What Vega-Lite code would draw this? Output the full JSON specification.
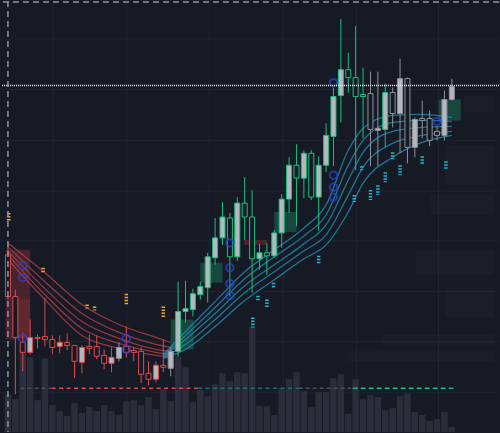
{
  "$schema": "https://vega.github.io/schema/vega-lite/v6.json",
  "width": 500,
  "height": 433,
  "autosize": {"type": "fit", "contains": "padding"},
  "padding": 0,
  "background": "#161a25",
  "config": {"view": {"stroke": null}},
  "datasets": {
    "candles": [
      {"i":0,"h":18.8,"o":17.8,"c":13.6,"l":13.3,"t":"bear","b":"hollow"},
      {"i":1,"h":14.3,"o":13.6,"c":9.5,"l":3.8,"t":"bear","b":"hollow"},
      {"i":2,"h":10.0,"o":9.0,"c":8.0,"l":6.1,"t":"bear","b":"hollow"},
      {"i":3,"h":11.3,"o":9.5,"c":8.0,"l":7.8,"t":"bear","b":"solid"},
      {"i":4,"h":9.8,"o":9.5,"c":9.4,"l":8.4,"t":"bear","b":"hollow"},
      {"i":5,"h":13.5,"o":9.6,"c":9.3,"l":8.6,"t":"bear","b":"hollow"},
      {"i":6,"h":9.7,"o":9.3,"c":8.5,"l":7.8,"t":"bear","b":"hollow"},
      {"i":7,"h":9.7,"o":9.0,"c":8.6,"l":7.9,"t":"bear","b":"solid"},
      {"i":8,"h":9.9,"o":9.0,"c":8.7,"l":8.2,"t":"bear","b":"hollow"},
      {"i":9,"h":8.7,"o":8.7,"c":7.1,"l":5.4,"t":"bear","b":"hollow"},
      {"i":10,"h":8.7,"o":8.5,"c":7.0,"l":5.9,"t":"bear","b":"solid"},
      {"i":11,"h":9.8,"o":8.6,"c":8.4,"l":7.8,"t":"bear","b":"hollow"},
      {"i":12,"h":9.7,"o":8.6,"c":7.6,"l":7.3,"t":"bear","b":"hollow"},
      {"i":13,"h":8.3,"o":7.7,"c":6.9,"l":6.3,"t":"bear","b":"hollow"},
      {"i":14,"h":8.5,"o":7.5,"c":6.9,"l":6.0,"t":"bear","b":"solid"},
      {"i":15,"h":9.0,"o":8.5,"c":7.4,"l":7.1,"t":"neut","b":"solid"},
      {"i":16,"h":10.6,"o":8.6,"c":8.0,"l":7.5,"t":"bear","b":"hollow"},
      {"i":17,"h":8.5,"o":8.2,"c":8.0,"l":7.1,"t":"bear","b":"hollow"},
      {"i":18,"h":8.5,"o":8.1,"c":5.8,"l":4.9,"t":"bear","b":"hollow"},
      {"i":19,"h":7.1,"o":5.9,"c":5.3,"l":4.7,"t":"bear","b":"hollow"},
      {"i":20,"h":7.1,"o":6.7,"c":5.3,"l":5.0,"t":"bear","b":"solid"},
      {"i":21,"h":9.3,"o":6.7,"c":6.5,"l":6.0,"t":"bear","b":"hollow"},
      {"i":22,"h":8.5,"o":8.1,"c":6.4,"l":5.6,"t":"neut","b":"solid"},
      {"i":23,"h":15.1,"o":12.1,"c":8.1,"l":7.6,"t":"bull","b":"solid"},
      {"i":24,"h":15.2,"o":12.4,"c":12.1,"l":11.0,"t":"bull","b":"solid"},
      {"i":25,"h":14.4,"o":13.9,"c":12.3,"l":11.6,"t":"bull","b":"solid"},
      {"i":26,"h":15.1,"o":14.6,"c":13.8,"l":13.3,"t":"bull","b":"solid"},
      {"i":27,"h":18.0,"o":17.6,"c":14.5,"l":13.0,"t":"bull","b":"solid"},
      {"i":28,"h":21.5,"o":19.5,"c":17.5,"l":16.8,"t":"bull","b":"solid"},
      {"i":29,"h":23.1,"o":21.6,"c":19.5,"l":18.8,"t":"bull","b":"solid"},
      {"i":30,"h":22.0,"o":21.5,"c":17.6,"l":13.6,"t":"bull","b":"hollow"},
      {"i":31,"h":23.6,"o":23.0,"c":17.6,"l":17.2,"t":"bull","b":"solid"},
      {"i":32,"h":25.6,"o":23.0,"c":21.6,"l":19.3,"t":"bull","b":"hollow"},
      {"i":33,"h":24.3,"o":21.6,"c":17.4,"l":14.0,"t":"bull","b":"hollow"},
      {"i":34,"h":18.9,"o":18.0,"c":17.4,"l":16.3,"t":"bull","b":"solid"},
      {"i":35,"h":19.0,"o":18.0,"c":17.7,"l":15.8,"t":"bull","b":"hollow"},
      {"i":36,"h":20.3,"o":20.0,"c":17.7,"l":17.5,"t":"bull","b":"solid"},
      {"i":37,"h":23.9,"o":23.4,"c":20.0,"l":18.5,"t":"bull","b":"solid"},
      {"i":38,"h":27.6,"o":26.8,"c":23.4,"l":22.0,"t":"bull","b":"solid"},
      {"i":39,"h":28.9,"o":26.8,"c":25.5,"l":20.7,"t":"bull","b":"hollow"},
      {"i":40,"h":28.3,"o":28.0,"c":25.5,"l":23.5,"t":"bull","b":"solid"},
      {"i":41,"h":28.3,"o":28.0,"c":23.6,"l":23.3,"t":"bull","b":"hollow"},
      {"i":42,"h":27.7,"o":26.8,"c":23.6,"l":20.2,"t":"bull","b":"solid"},
      {"i":43,"h":31.0,"o":29.8,"c":26.8,"l":26.1,"t":"bull","b":"solid"},
      {"i":44,"h":34.6,"o":33.7,"c":29.7,"l":26.7,"t":"bull","b":"solid"},
      {"i":45,"h":41.5,"o":36.4,"c":33.8,"l":31.1,"t":"bull","b":"solid"},
      {"i":46,"h":38.1,"o":36.4,"c":35.6,"l":34.1,"t":"bull","b":"hollow"},
      {"i":47,"h":40.8,"o":35.6,"c":33.7,"l":26.3,"t":"bull","b":"hollow"},
      {"i":48,"h":36.6,"o":33.9,"c":33.7,"l":29.5,"t":"bull","b":"hollow"},
      {"i":49,"h":36.2,"o":34.0,"c":30.4,"l":26.7,"t":"neut","b":"hollow"},
      {"i":50,"h":36.2,"o":30.5,"c":30.3,"l":26.7,"t":"neut","b":"solid"},
      {"i":51,"h":35.0,"o":34.1,"c":30.4,"l":28.6,"t":"bull","b":"solid"},
      {"i":52,"h":34.6,"o":34.1,"c":32.0,"l":30.6,"t":"neut","b":"hollow"},
      {"i":53,"h":37.5,"o":35.5,"c":32.0,"l":28.0,"t":"neut","b":"solid"},
      {"i":54,"h":35.6,"o":35.5,"c":28.6,"l":27.0,"t":"neut","b":"hollow"},
      {"i":55,"h":31.6,"o":31.4,"c":28.6,"l":27.6,"t":"neut","b":"solid"},
      {"i":56,"h":33.3,"o":31.5,"c":31.3,"l":29.5,"t":"neut","b":"hollow"},
      {"i":57,"h":32.3,"o":31.5,"c":29.3,"l":28.7,"t":"neut","b":"hollow"},
      {"i":58,"h":30.7,"o":30.2,"c":29.8,"l":29.3,"t":"neut","b":"hollow"},
      {"i":59,"h":34.3,"o":33.4,"c":29.8,"l":29.3,"t":"neut","b":"solid"},
      {"i":60,"h":35.5,"o":34.7,"c":33.4,"l":33.3,"t":"neut","b":"solid"}
    ],
    "volume": [
      {"i":0,"v":38},{"i":1,"v":33},{"i":2,"v":88},{"i":3,"v":75},{"i":4,"v":32},{"i":5,"v":74},
      {"i":6,"v":27},{"i":7,"v":21},{"i":8,"v":16},{"i":9,"v":29},{"i":10,"v":19},{"i":11,"v":25},
      {"i":12,"v":21},{"i":13,"v":27},{"i":14,"v":21},{"i":15,"v":17},{"i":16,"v":31},{"i":17,"v":32},
      {"i":18,"v":27},{"i":19,"v":35},{"i":20,"v":23},{"i":21,"v":43},{"i":22,"v":31},{"i":23,"v":76},
      {"i":24,"v":65},{"i":25,"v":30},{"i":26,"v":42},{"i":27,"v":36},{"i":28,"v":48},{"i":29,"v":59},
      {"i":30,"v":51},{"i":31,"v":60},{"i":32,"v":59},{"i":33,"v":106},{"i":34,"v":26},{"i":35,"v":26},
      {"i":36,"v":17},{"i":37,"v":44},{"i":38,"v":53},{"i":39,"v":60},{"i":40,"v":41},{"i":41,"v":25},
      {"i":42,"v":40},{"i":43,"v":40},{"i":44,"v":54},{"i":45,"v":58},{"i":46,"v":18},{"i":47,"v":53},
      {"i":48,"v":33},{"i":49,"v":37},{"i":50,"v":35},{"i":51,"v":22},{"i":52,"v":24},{"i":53,"v":36},
      {"i":54,"v":39},{"i":55,"v":20},{"i":56,"v":17},{"i":57,"v":11},{"i":58,"v":13},{"i":59,"v":20},
      {"i":60,"v":5}
    ],
    "redRibbon": [
      {"line":"R1","i":0,"p":19.0},{"line":"R1","i":5,"p":16.0},{"line":"R1","i":10,"p":12.8},{"line":"R1","i":15,"p":10.8},{"line":"R1","i":20,"p":9.5},{"line":"R1","i":22,"p":9.0},
      {"line":"R2","i":0,"p":18.6},{"line":"R2","i":5,"p":15.1},{"line":"R2","i":10,"p":11.9},{"line":"R2","i":15,"p":10.0},{"line":"R2","i":20,"p":8.8},{"line":"R2","i":22,"p":8.5},
      {"line":"R3","i":0,"p":18.2},{"line":"R3","i":5,"p":14.4},{"line":"R3","i":10,"p":11.1},{"line":"R3","i":15,"p":9.4},{"line":"R3","i":20,"p":8.3},{"line":"R3","i":22,"p":8.1},
      {"line":"R4","i":0,"p":17.8},{"line":"R4","i":5,"p":13.8},{"line":"R4","i":10,"p":10.4},{"line":"R4","i":15,"p":8.9},{"line":"R4","i":20,"p":8.0},{"line":"R4","i":22,"p":7.8},
      {"line":"R5","i":0,"p":17.3},{"line":"R5","i":5,"p":13.3},{"line":"R5","i":10,"p":9.7},{"line":"R5","i":15,"p":8.4},{"line":"R5","i":20,"p":7.7},{"line":"R5","i":22,"p":7.5}
    ],
    "tealRibbon": [
      {"line":"T1","i":21,"p":7.8},{"line":"T1","i":24,"p":10.1},{"line":"T1","i":28,"p":13.1},{"line":"T1","i":32,"p":16.1},{"line":"T1","i":36,"p":18.3},{"line":"T1","i":40,"p":20.5},{"line":"T1","i":43,"p":22.8},{"line":"T1","i":46,"p":28.3},{"line":"T1","i":48,"p":30.5},{"line":"T1","i":52,"p":31.8},{"line":"T1","i":56,"p":31.9},{"line":"T1","i":60,"p":31.6},
      {"line":"T2","i":21,"p":7.7},{"line":"T2","i":24,"p":9.7},{"line":"T2","i":28,"p":12.5},{"line":"T2","i":32,"p":15.4},{"line":"T2","i":36,"p":17.6},{"line":"T2","i":40,"p":19.7},{"line":"T2","i":43,"p":21.8},{"line":"T2","i":46,"p":26.8},{"line":"T2","i":48,"p":29.3},{"line":"T2","i":52,"p":31.1},{"line":"T2","i":56,"p":31.3},{"line":"T2","i":60,"p":31.2},
      {"line":"T3","i":21,"p":7.6},{"line":"T3","i":24,"p":9.3},{"line":"T3","i":28,"p":11.9},{"line":"T3","i":32,"p":14.7},{"line":"T3","i":36,"p":16.8},{"line":"T3","i":40,"p":18.9},{"line":"T3","i":43,"p":20.8},{"line":"T3","i":46,"p":25.3},{"line":"T3","i":48,"p":28.1},{"line":"T3","i":52,"p":30.2},{"line":"T3","i":56,"p":30.6},{"line":"T3","i":60,"p":30.7},
      {"line":"T4","i":21,"p":7.5},{"line":"T4","i":24,"p":8.8},{"line":"T4","i":28,"p":11.3},{"line":"T4","i":32,"p":14.0},{"line":"T4","i":36,"p":16.1},{"line":"T4","i":40,"p":18.2},{"line":"T4","i":43,"p":19.8},{"line":"T4","i":46,"p":23.8},{"line":"T4","i":48,"p":26.6},{"line":"T4","i":52,"p":29.0},{"line":"T4","i":56,"p":29.8},{"line":"T4","i":60,"p":30.2},
      {"line":"T5","i":21,"p":7.4},{"line":"T5","i":24,"p":8.3},{"line":"T5","i":28,"p":10.6},{"line":"T5","i":32,"p":13.2},{"line":"T5","i":36,"p":15.3},{"line":"T5","i":40,"p":17.4},{"line":"T5","i":43,"p":18.8},{"line":"T5","i":46,"p":22.1},{"line":"T5","i":48,"p":25.0},{"line":"T5","i":52,"p":27.6},{"line":"T5","i":56,"p":29.1},{"line":"T5","i":60,"p":29.8}
    ],
    "zones": [
      {"k":"green","a":22.0,"b":25.1,"p":11.3,"q":8.3},
      {"k":"green","a":26.0,"b":29.0,"p":17.0,"q":15.0},
      {"k":"green","a":36.0,"b":39.05,"p":22.1,"q":20.1},
      {"k":"green","a":58.2,"b":61.2,"p":33.4,"q":31.3},
      {"k":"red","a":-0.3,"b":3.0,"p":18.3,"q":9.3},
      {"k":"red","a":1.0,"b":3.0,"p":13.3,"q":9.5},
      {"k":"red","a":31.9,"b":35.0,"p":19.3,"q":18.8}
    ],
    "profile": [
      {"a":61.7,"b":65.7,"p":33.8,"q":32.1},
      {"a":59.1,"b":65.7,"p":28.8,"q":24.8},
      {"a":57.1,"b":65.7,"p":23.8,"q":21.8},
      {"a":55.1,"b":65.7,"p":18.3,"q":15.8},
      {"a":59.1,"b":65.7,"p":14.5,"q":11.5},
      {"a":50.5,"b":65.7,"p":9.8,"q":8.8},
      {"a":45.9,"b":65.7,"p":8.1,"q":7.1}
    ],
    "gridX": [{"i":6.07},{"i":16.1},{"i":27.2},{"i":37.2},{"i":47.1},{"i":58.2}],
    "gridY": [{"p":39.5},{"p":34.4},{"p":29.3},{"p":24.2},{"p":19.2},{"p":14.1},{"p":9.1},{"p":4.0}],
    "levels": [
      {"k":"grey","a":1.7,"b":5.9,"p":4.4},
      {"k":"red","a":5.9,"b":25.7,"p":4.4},
      {"k":"teal","a":25.7,"b":39.3,"p":4.4},
      {"k":"grey","a":39.3,"b":46.4,"p":4.4},
      {"k":"green","a":46.6,"b":60.4,"p":4.4}
    ],
    "circles": [
      {"i":2,"p":16.7},{"i":2,"p":15.5},{"i":2,"p":9.4},
      {"i":16,"p":9.4},{"i":16,"p":8.3},
      {"i":30,"p":19.0},{"i":30,"p":16.5},{"i":30,"p":14.9},{"i":30,"p":13.7},
      {"i":44,"p":35.1},{"i":44,"p":25.8},{"i":44,"p":24.6},{"i":44,"p":23.6},
      {"i":58,"p":31.2}
    ],
    "dots": [
      {"k":"orange","i":0.1,"p":22.0,"q":21.1},
      {"k":"orange","i":4.75,"p":16.5,"q":16.0},
      {"k":"orange","i":10.7,"p":12.8,"q":12.4},
      {"k":"orange","i":11.7,"p":12.6,"q":12.2},
      {"k":"orange","i":16.0,"p":13.9,"q":12.8},
      {"k":"orange","i":21.0,"p":12.6,"q":11.5},
      {"k":"cyan","i":33.1,"p":11.5,"q":10.5},
      {"k":"cyan","i":33.8,"p":13.7,"q":13.1},
      {"k":"cyan","i":35.0,"p":13.3,"q":12.4},
      {"k":"cyan","i":35.9,"p":15.0,"q":14.5},
      {"k":"cyan","i":42.0,"p":17.7,"q":16.8},
      {"k":"cyan","i":46.8,"p":23.8,"q":23.1},
      {"k":"cyan","i":47.8,"p":26.7,"q":26.3},
      {"k":"cyan","i":49.0,"p":24.3,"q":23.3},
      {"k":"cyan","i":50.0,"p":24.8,"q":23.8},
      {"k":"cyan","i":51.0,"p":26.1,"q":25.1},
      {"k":"cyan","i":52.0,"p":28.1,"q":27.4},
      {"k":"cyan","i":53.0,"p":26.8,"q":25.8},
      {"k":"cyan","i":56.0,"p":27.7,"q":26.8},
      {"k":"cyan","i":59.2,"p":27.2,"q":26.3}
    ],
    "hlines": [
      {"k":"top","p":43.2},
      {"k":"last","p":34.8}
    ],
    "vlines": [{"i":0}]
  },
  "layer": [
    {
      "layer": [
        {
          "data": {"name": "gridX"},
          "mark": {"type": "rule", "color": "#1f2331", "strokeWidth": 1},
          "encoding": {
            "x": {"field": "i", "type": "quantitative", "scale": {"domain": [-0.264, 65.7], "nice": false, "zero": false}, "axis": null}
          }
        },
        {
          "data": {"name": "gridY"},
          "mark": {"type": "rule", "color": "#1f2331", "strokeWidth": 1},
          "encoding": {
            "y": {"field": "p", "type": "quantitative", "scale": {"domain": [0, 43.3], "nice": false, "zero": false}, "axis": null}
          }
        },
        {
          "data": {"name": "profile"},
          "mark": {"type": "rect", "color": "#3a3f4c", "opacity": 0.12},
          "encoding": {
            "x": {"field": "a", "type": "quantitative", "scale": {"domain": [-0.264, 65.7], "nice": false, "zero": false}, "axis": null},
            "x2": {"field": "b"},
            "y": {"field": "p", "type": "quantitative", "scale": {"domain": [0, 43.3], "nice": false, "zero": false}, "axis": null},
            "y2": {"field": "q"}
          }
        },
        {
          "data": {"name": "zones"},
          "transform": [{"filter": "datum.k === 'green'"}],
          "mark": {"type": "rect", "color": "#1a6650", "opacity": 0.6},
          "encoding": {
            "x": {"field": "a", "type": "quantitative", "axis": null},
            "x2": {"field": "b"},
            "y": {"field": "p", "type": "quantitative", "axis": null},
            "y2": {"field": "q"}
          }
        },
        {
          "data": {"name": "zones"},
          "transform": [{"filter": "datum.k === 'red'"}],
          "mark": {"type": "rect", "color": "#7a2c33", "opacity": 0.5},
          "encoding": {
            "x": {"field": "a", "type": "quantitative", "axis": null},
            "x2": {"field": "b"},
            "y": {"field": "p", "type": "quantitative", "axis": null},
            "y2": {"field": "q"}
          }
        }
      ]
    },
    {
      "data": {"name": "volume"},
      "mark": {"type": "bar", "color": "#2b2e3a", "size": 6.5},
      "encoding": {
        "x": {"field": "i", "type": "quantitative", "scale": {"domain": [-0.264, 65.7], "nice": false, "zero": false}, "axis": null},
        "y": {"field": "v", "type": "quantitative", "scale": {"domain": [0, 433], "nice": false, "zero": false}, "axis": null}
      }
    },
    {
      "layer": [
        {
          "data": {"name": "redRibbon"},
          "mark": {"type": "line", "color": "#b23f48", "strokeWidth": 1.3, "opacity": 0.8, "interpolate": "monotone"},
          "encoding": {
            "x": {"field": "i", "type": "quantitative", "scale": {"domain": [-0.264, 65.7], "nice": false, "zero": false}, "axis": null},
            "y": {"field": "p", "type": "quantitative", "scale": {"domain": [0, 43.3], "nice": false, "zero": false}, "axis": null},
            "detail": {"field": "line", "type": "nominal"}
          }
        },
        {
          "data": {"name": "tealRibbon"},
          "mark": {"type": "line", "color": "#1e8db0", "strokeWidth": 1.3, "opacity": 0.8, "interpolate": "monotone"},
          "encoding": {
            "x": {"field": "i", "type": "quantitative", "axis": null},
            "y": {"field": "p", "type": "quantitative", "axis": null},
            "detail": {"field": "line", "type": "nominal"}
          }
        },
        {
          "data": {"name": "levels"},
          "transform": [{"filter": "datum.k === 'grey'"}],
          "mark": {"type": "rule", "color": "#4a4e58", "strokeWidth": 1.5, "strokeDash": [4, 3]},
          "encoding": {
            "x": {"field": "a", "type": "quantitative", "axis": null},
            "x2": {"field": "b"},
            "y": {"field": "p", "type": "quantitative", "axis": null}
          }
        },
        {
          "data": {"name": "levels"},
          "transform": [{"filter": "datum.k === 'red'"}],
          "mark": {"type": "rule", "color": "#d8484c", "strokeWidth": 1.5, "strokeDash": [4, 3.5]},
          "encoding": {
            "x": {"field": "a", "type": "quantitative", "axis": null},
            "x2": {"field": "b"},
            "y": {"field": "p", "type": "quantitative", "axis": null}
          }
        },
        {
          "data": {"name": "levels"},
          "transform": [{"filter": "datum.k === 'teal'"}],
          "mark": {"type": "rule", "color": "#1b6f73", "strokeWidth": 1.5, "strokeDash": [4, 3.5]},
          "encoding": {
            "x": {"field": "a", "type": "quantitative", "axis": null},
            "x2": {"field": "b"},
            "y": {"field": "p", "type": "quantitative", "axis": null}
          }
        },
        {
          "data": {"name": "levels"},
          "transform": [{"filter": "datum.k === 'green'"}],
          "mark": {"type": "rule", "color": "#14b87a", "strokeWidth": 1.5, "strokeDash": [5, 3]},
          "encoding": {
            "x": {"field": "a", "type": "quantitative", "axis": null},
            "x2": {"field": "b"},
            "y": {"field": "p", "type": "quantitative", "axis": null}
          }
        },
        {
          "data": {"name": "candles"},
          "mark": {"type": "rule", "strokeWidth": 1},
          "encoding": {
            "x": {"field": "i", "type": "quantitative", "axis": null},
            "y": {"field": "l", "type": "quantitative", "axis": null},
            "y2": {"field": "h"},
            "stroke": {"field": "t", "type": "nominal", "scale": {"domain": ["bear", "bull", "neut"], "range": ["#e0484c", "#16c080", "#8e9199"]}, "legend": null}
          }
        },
        {
          "data": {"name": "candles"},
          "mark": {"type": "bar", "size": 5, "strokeWidth": 1},
          "encoding": {
            "x": {"field": "i", "type": "quantitative", "axis": null},
            "y": {"field": "o", "type": "quantitative", "axis": null},
            "y2": {"field": "c"},
            "fill": {"field": "b", "type": "nominal", "scale": {"domain": ["solid", "hollow"], "range": ["#b4b7bf", "#161a25"]}, "legend": null},
            "stroke": {"field": "t", "type": "nominal", "legend": null}
          }
        },
        {
          "data": {"name": "circles"},
          "mark": {"type": "point", "shape": "circle", "filled": false, "color": "#2746d0", "strokeWidth": 2, "size": 55},
          "encoding": {
            "x": {"field": "i", "type": "quantitative", "axis": null},
            "y": {"field": "p", "type": "quantitative", "axis": null}
          }
        },
        {
          "data": {"name": "dots"},
          "transform": [{"filter": "datum.k === 'orange'"}],
          "mark": {"type": "rule", "color": "#f5a623", "strokeWidth": 3.5, "strokeDash": [1.5, 1.5]},
          "encoding": {
            "x": {"field": "i", "type": "quantitative", "axis": null},
            "y": {"field": "p", "type": "quantitative", "axis": null},
            "y2": {"field": "q"}
          }
        },
        {
          "data": {"name": "dots"},
          "transform": [{"filter": "datum.k === 'cyan'"}],
          "mark": {"type": "rule", "color": "#22b6d6", "strokeWidth": 3.5, "strokeDash": [1.5, 1.5]},
          "encoding": {
            "x": {"field": "i", "type": "quantitative", "axis": null},
            "y": {"field": "p", "type": "quantitative", "axis": null},
            "y2": {"field": "q"}
          }
        },
        {
          "data": {"name": "hlines"},
          "transform": [{"filter": "datum.k === 'top'"}],
          "mark": {"type": "rule", "color": "#8f959e", "strokeWidth": 1.5, "strokeDash": [6, 4]},
          "encoding": {
            "y": {"field": "p", "type": "quantitative", "axis": null}
          }
        },
        {
          "data": {"name": "hlines"},
          "transform": [{"filter": "datum.k === 'last'"}],
          "mark": {"type": "rule", "color": "#e6e6e6", "strokeWidth": 1.5, "strokeDash": [1, 1]},
          "encoding": {
            "y": {"field": "p", "type": "quantitative", "axis": null}
          }
        },
        {
          "data": {"name": "vlines"},
          "mark": {"type": "rule", "color": "#8f959e", "strokeWidth": 1.5, "strokeDash": [6, 4]},
          "encoding": {
            "x": {"field": "i", "type": "quantitative", "axis": null}
          }
        }
      ]
    }
  ],
  "resolve": {"scale": {"y": "independent"}}
}
